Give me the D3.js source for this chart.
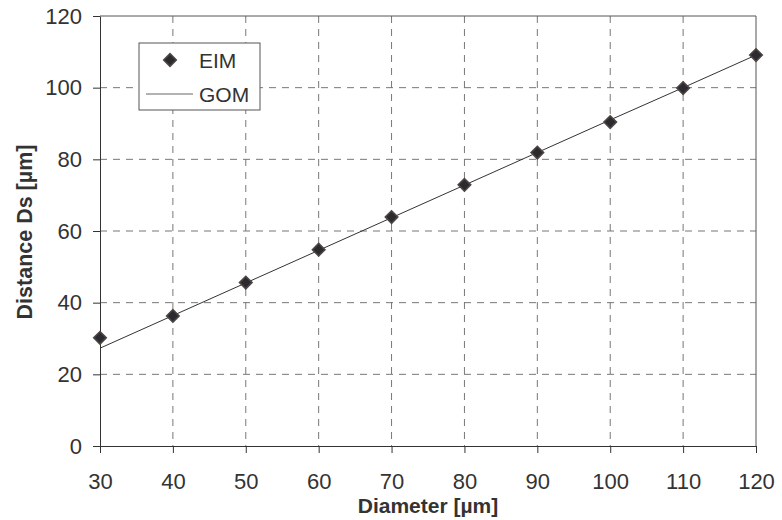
<!DOCTYPE html>
<html><head><meta charset="utf-8">
<script src="https://cdn.jsdelivr.net/npm/d3@7"></script>
<style>body{margin:0;background:#fff}svg{display:block}</style>
</head><body>
<svg id="chart" width="782" height="520"></svg>
<script>
const diameters = [30, 40, 50, 60, 70, 80, 90, 100, 110, 120];
const eimValues = [30.2, 36.3, 45.6, 54.8, 63.9, 72.9, 81.9, 90.4, 99.9, 109.1];
const gomValues = [27.3, 36.4, 45.5, 54.6, 63.7, 72.8, 81.9, 91.0, 100.0, 109.1];
const xTicks = [30, 40, 50, 60, 70, 80, 90, 100, 110, 120];
const yTicks = [0, 20, 40, 60, 80, 100, 120];
const seriesNames = ["EIM", "GOM"];

const svg = d3.select("#chart");
const L = 100, R = 756, T = 16, B = 446;
const x = d3.scaleLinear().domain([30, 120]).range([L, R]);
const y = d3.scaleLinear().domain([0, 120]).range([B, T]);
const font = "'Liberation Sans', Arial, sans-serif";
const textCol = "#333";

// grid
const g = svg.append("g");
g.selectAll(".vg").data(xTicks.slice(1, -1)).enter().append("line")
  .attr("x1", d => x(d)).attr("x2", d => x(d)).attr("y1", T).attr("y2", B)
  .attr("stroke", "#777").attr("stroke-width", 1).attr("stroke-dasharray", "7,6");
g.selectAll(".hg").data(yTicks.slice(1, -1)).enter().append("line")
  .attr("x1", L).attr("x2", R).attr("y1", d => y(d)).attr("y2", d => y(d))
  .attr("stroke", "#777").attr("stroke-width", 1).attr("stroke-dasharray", "7,6");

// frame top/right
svg.append("line").attr("x1", L).attr("x2", R).attr("y1", T).attr("y2", T).attr("stroke", "#555");
svg.append("line").attr("x1", R).attr("x2", R).attr("y1", T).attr("y2", B).attr("stroke", "#555");

// axes
const xAxis = svg.append("g").attr("transform", `translate(0,${B})`)
  .call(d3.axisBottom(x).tickValues(xTicks).tickSize(7).tickSizeOuter(0).tickPadding(20));
const yAxis = svg.append("g").attr("transform", `translate(${L},0)`)
  .call(d3.axisLeft(y).tickValues(yTicks).tickSize(7).tickSizeOuter(0).tickPadding(11));
[xAxis, yAxis].forEach(a => {
  a.select(".domain").attr("stroke", "#333");
  a.selectAll(".tick line").attr("stroke", "#333");
  a.selectAll("text").attr("font-family", font).attr("font-size", 22).attr("fill", textCol);
});

// GOM line
svg.append("path").datum(diameters.map((d, i) => [d, gomValues[i]]))
  .attr("fill", "none").attr("stroke", "#333").attr("stroke-width", 1)
  .attr("d", d3.line().x(d => x(d[0])).y(d => y(d[1])));

// EIM points
svg.selectAll(".pt").data(diameters.map((d, i) => [d, eimValues[i]])).enter().append("path")
  .attr("transform", d => `translate(${x(d[0])},${y(d[1])}) rotate(45)`)
  .attr("d", d3.symbol().type(d3.symbolSquare).size(78))
  .attr("fill", "#2a2a30").attr("stroke", "#4d4540").attr("stroke-width", 1.6);

// legend
const lg = svg.append("g");
lg.append("rect").attr("x", 139).attr("y", 43).attr("width", 121).attr("height", 67)
  .attr("fill", "#fff").attr("stroke", "#555");
lg.append("path").attr("transform", "translate(170,60) rotate(45)")
  .attr("d", d3.symbol().type(d3.symbolSquare).size(78))
  .attr("fill", "#2a2a30").attr("stroke", "#4d4540").attr("stroke-width", 1.6);
lg.append("line").attr("x1", 146).attr("x2", 193).attr("y1", 94).attr("y2", 94).attr("stroke", "#666");
lg.selectAll("text").data(seriesNames).enter().append("text")
  .attr("x", 199).attr("y", (d, i) => 68 + i * 34)
  .attr("font-family", font).attr("font-size", 21).attr("fill", textCol).text(d => d);

// axis titles
svg.append("text").attr("x", 428).attr("y", 513).attr("text-anchor", "middle")
  .attr("font-family", font).attr("font-weight", "bold").attr("font-size", 21).attr("fill", textCol)
  .text("Diameter [µm]");
svg.append("text").attr("transform", "translate(32,232) rotate(-90)").attr("text-anchor", "middle")
  .attr("font-family", font).attr("font-weight", "bold").attr("font-size", 21.5).attr("fill", textCol)
  .text("Distance Ds [µm]");
</script>
</body></html>
